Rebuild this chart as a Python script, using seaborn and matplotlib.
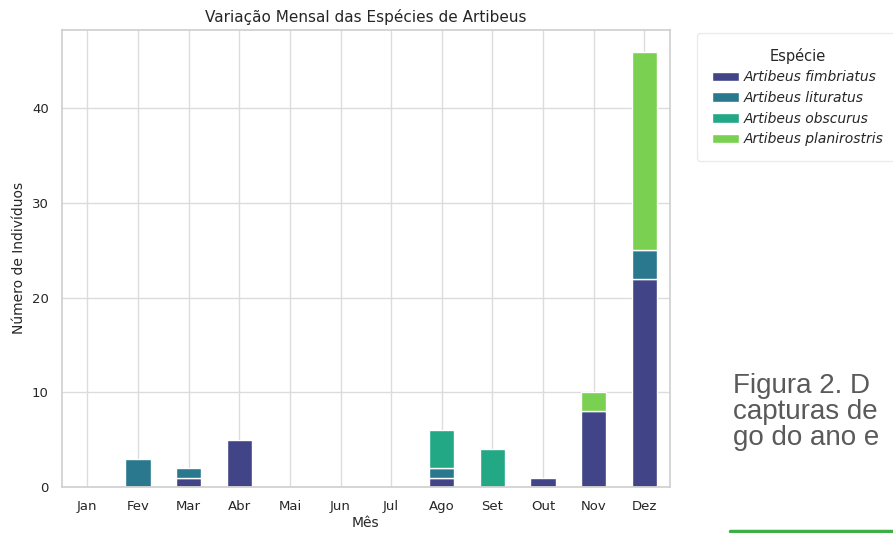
import pandas as pd
import matplotlib
matplotlib.use('Agg')
import matplotlib.pyplot as plt
import seaborn as sns

meses = ['Jan', 'Fev', 'Mar', 'Abr', 'Mai', 'Jun', 'Jul', 'Ago', 'Set', 'Out', 'Nov', 'Dez']
especies = ['Artibeus fimbriatus', 'Artibeus lituratus', 'Artibeus obscurus', 'Artibeus planirostris']

# individuos por mes, uma lista por especie
fimbriatus   = [0, 0, 1, 5, 0, 0, 0, 1, 0, 1, 8, 22]
lituratus    = [0, 3, 1, 0, 0, 0, 0, 1, 0, 0, 0, 3]
obscurus     = [0, 0, 0, 0, 0, 0, 0, 4, 4, 0, 0, 0]
planirostris = [0, 0, 0, 0, 0, 0, 0, 0, 0, 0, 2, 21]

caption_lines = ['Figura 2. D', 'capturas de', 'go do ano e']

sns.set_theme(style='whitegrid', rc={'grid.color': '#dcdcdc'})
plt.rcParams['font.family'] = ['DejaVu Sans']

df = pd.DataFrame(dict(zip(especies, [fimbriatus, lituratus, obscurus, planirostris])), index=meses)
cores = sns.color_palette('viridis', len(especies))

fig, ax = plt.subplots(figsize=(8.93, 5.33), dpi=100)
fig.subplots_adjust(left=0.0694, right=0.750, top=0.944, bottom=0.0863)

df.plot(kind='bar', stacked=True, ax=ax, color=cores, edgecolor='white', linewidth=1, width=0.5)

ax.set_title('Variação Mensal das Espécies de Artibeus', fontsize=11, color='#262626')
ax.set_xlabel('Mês', fontsize=10, labelpad=2)
ax.set_ylabel('Número de Indivíduos', fontsize=10)
ax.tick_params(axis='x', labelsize=9.5, rotation=0)
ax.tick_params(axis='y', labelsize=9.5)
for s in ax.spines.values():
    s.set_color('#d0d0d0')

leg = ax.legend(title='Espécie', bbox_to_anchor=(1.045, 0.993), loc='upper left',
                fontsize=10, title_fontsize=10.5, borderaxespad=0, borderpad=1.05,
                handlelength=2.0, handletextpad=0.3, labelspacing=0.48)
leg.get_frame().set_edgecolor('#e6e6e6')
for t in leg.get_texts():
    t.set_style('italic')

# trecho do texto do documento ao lado do grafico
for i, linha in enumerate(caption_lines):
    fig.text(733 / 893, 1 - (386 + 26 * i) / 533, linha, fontsize=20, color='#5a5a5a',
             family=['Liberation Sans', 'DejaVu Sans'], va='center', ha='left')
fig.add_artist(plt.Line2D([730 / 893, 1.0], [1 - 531 / 533] * 2, color='#3cb043', linewidth=2.5))

fig.savefig('out.png', dpi=100)
